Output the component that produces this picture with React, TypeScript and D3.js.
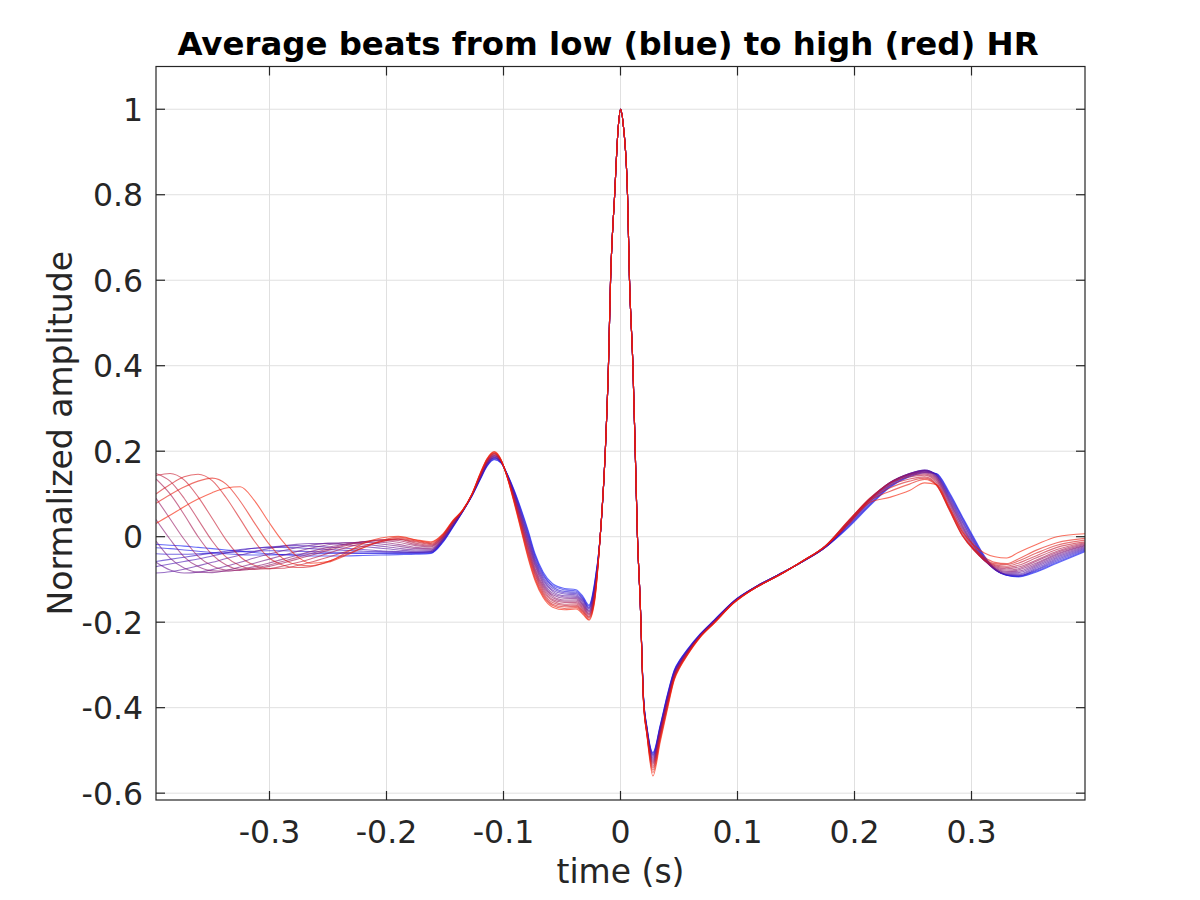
/**
 * Average beats from low (blue) to high (red) HR.
 * D3 via ref + useEffect, clear + redraw. Beats are drawn blue first, red last.
 */
import React, { useRef, useEffect } from 'react';
import * as d3 from 'd3';

const WIDTH = 1200;
const HEIGHT = 900;
const MARGIN = { left: 156, top: 66.5, right: 115, bottom: 100 };

const X_DOMAIN: [number, number] = [-0.397, 0.397];
const Y_DOMAIN: [number, number] = [-0.616, 1.1];
const X_TICKS = [-0.3, -0.2, -0.1, 0, 0.1, 0.2, 0.3];
const Y_TICKS = [-0.6, -0.4, -0.2, 0, 0.2, 0.4, 0.6, 0.8, 1];

const TITLE = 'Average beats from low (blue) to high (red) HR';
const X_LABEL = 'time (s)';
const Y_LABEL = 'Normalized amplitude';

// sample times (s): previous T wave tail + P wave + Q
const TIME_PRE = [
  -0.397, -0.385, -0.373, -0.361, -0.349, -0.337, -0.325, -0.313, -0.301, -0.289, -0.277, -0.265,
  -0.25, -0.235, -0.22, -0.205, -0.19, -0.175,
  -0.162, -0.152, -0.143, -0.135, -0.127, -0.12, -0.114, -0.108, -0.102, -0.097, -0.091, -0.085,
  -0.079, -0.073, -0.066, -0.058, -0.048, -0.038, -0.032, -0.027, -0.022,
];

// R spike, the same for every beat
const TIME_SPIKE = [-0.0175, -0.013, -0.0103, -0.0085, -0.005, -0.002, 0, 0.0025, 0.006, 0.0077, 0.0106, 0.0126, 0.0145, 0.0168];
const SPIKE = [-0.005, 0.2, 0.4, 0.6, 0.8, 0.955, 1.0, 0.96, 0.8, 0.6, 0.4, 0.2, 0.0, -0.148];

// sample times (s): S wave, ST segment, T wave
const TIME_POST = [
  0.0197, 0.0226, 0.0277, 0.034, 0.04, 0.046, 0.051, 0.057, 0.068, 0.08, 0.097, 0.115, 0.135, 0.155, 0.175,
  0.195, 0.213, 0.23, 0.247, 0.26, 0.27, 0.281, 0.292, 0.302, 0.311, 0.32, 0.33, 0.34, 0.355, 0.373, 0.397,
];

// one row per beat, lowest HR first
const BEATS_PRE = [
  [-0.018, -0.02, -0.022, -0.025, -0.028, -0.031, -0.034, -0.037, -0.04, -0.042, -0.044, -0.045, -0.045, -0.045, -0.044, -0.043, -0.042, -0.041,
    -0.039, -0.014, 0.023, 0.058, 0.095, 0.133, 0.165, 0.18, 0.172, 0.148, 0.11, 0.065, 0.015, -0.04, -0.083, -0.11, -0.121, -0.124, -0.14, -0.16, -0.105],
  [-0.026, -0.028, -0.031, -0.034, -0.037, -0.04, -0.042, -0.043, -0.043, -0.042, -0.041, -0.04, -0.039, -0.039, -0.039, -0.039, -0.039, -0.039,
    -0.038, -0.013, 0.024, 0.058, 0.095, 0.134, 0.166, 0.181, 0.173, 0.147, 0.108, 0.062, 0.011, -0.044, -0.087, -0.114, -0.124, -0.127, -0.143, -0.162, -0.108],
  [-0.04, -0.041, -0.041, -0.04, -0.039, -0.037, -0.035, -0.034, -0.033, -0.033, -0.034, -0.035, -0.036, -0.037, -0.038, -0.038, -0.038, -0.038,
    -0.037, -0.011, 0.025, 0.059, 0.096, 0.135, 0.167, 0.183, 0.173, 0.147, 0.106, 0.058, 0.006, -0.048, -0.091, -0.117, -0.128, -0.13, -0.146, -0.165, -0.111],
  [-0.058, -0.053, -0.048, -0.043, -0.038, -0.034, -0.03, -0.027, -0.025, -0.025, -0.026, -0.028, -0.03, -0.032, -0.034, -0.035, -0.036, -0.036,
    -0.035, -0.01, 0.026, 0.059, 0.096, 0.136, 0.169, 0.184, 0.174, 0.146, 0.104, 0.055, 0.002, -0.053, -0.095, -0.121, -0.131, -0.133, -0.148, -0.167, -0.114],
  [-0.07, -0.064, -0.058, -0.052, -0.045, -0.038, -0.032, -0.027, -0.024, -0.022, -0.021, -0.022, -0.024, -0.027, -0.03, -0.033, -0.035, -0.037,
    -0.035, -0.009, 0.027, 0.059, 0.096, 0.137, 0.17, 0.185, 0.174, 0.146, 0.102, 0.052, -0.002, -0.057, -0.099, -0.125, -0.134, -0.136, -0.151, -0.169, -0.117],
  [-0.085, -0.082, -0.076, -0.068, -0.06, -0.051, -0.043, -0.035, -0.028, -0.022, -0.018, -0.016, -0.016, -0.019, -0.023, -0.027, -0.031, -0.034,
    -0.033, -0.007, 0.028, 0.059, 0.097, 0.138, 0.171, 0.186, 0.175, 0.145, 0.1, 0.048, -0.007, -0.061, -0.103, -0.128, -0.138, -0.139, -0.154, -0.172, -0.12],
  [-0.06, -0.078, -0.085, -0.083, -0.077, -0.069, -0.06, -0.05, -0.041, -0.033, -0.026, -0.02, -0.015, -0.014, -0.017, -0.022, -0.027, -0.031,
    -0.031, -0.006, 0.029, 0.06, 0.097, 0.139, 0.172, 0.188, 0.175, 0.145, 0.098, 0.045, -0.011, -0.065, -0.107, -0.132, -0.141, -0.142, -0.157, -0.174, -0.123],
  [-0.01, -0.05, -0.073, -0.083, -0.084, -0.079, -0.071, -0.062, -0.053, -0.044, -0.035, -0.027, -0.019, -0.014, -0.013, -0.017, -0.022, -0.028,
    -0.029, -0.005, 0.03, 0.06, 0.097, 0.14, 0.173, 0.189, 0.176, 0.144, 0.096, 0.042, -0.015, -0.069, -0.111, -0.136, -0.144, -0.145, -0.16, -0.176, -0.126],
  [0.04, -0.006, -0.047, -0.07, -0.08, -0.081, -0.077, -0.07, -0.062, -0.053, -0.044, -0.035, -0.025, -0.017, -0.012, -0.013, -0.018, -0.025,
    -0.027, -0.003, 0.032, 0.06, 0.098, 0.141, 0.175, 0.19, 0.176, 0.144, 0.094, 0.038, -0.02, -0.074, -0.115, -0.139, -0.148, -0.148, -0.162, -0.179, -0.129],
  [0.09, 0.042, -0.006, -0.046, -0.068, -0.078, -0.079, -0.074, -0.067, -0.058, -0.049, -0.04, -0.029, -0.019, -0.012, -0.009, -0.013, -0.021,
    -0.024, -0.002, 0.033, 0.06, 0.098, 0.142, 0.176, 0.191, 0.177, 0.143, 0.092, 0.035, -0.024, -0.078, -0.119, -0.143, -0.151, -0.151, -0.165, -0.181, -0.132],
  [0.135, 0.1, 0.052, 0.0, -0.042, -0.066, -0.076, -0.076, -0.07, -0.062, -0.053, -0.044, -0.032, -0.021, -0.012, -0.007, -0.009, -0.018,
    -0.022, -0.001, 0.034, 0.061, 0.098, 0.143, 0.177, 0.193, 0.177, 0.143, 0.09, 0.032, -0.028, -0.082, -0.123, -0.147, -0.154, -0.154, -0.168, -0.183, -0.135],
  [0.148, 0.13, 0.09, 0.04, -0.01, -0.048, -0.068, -0.076, -0.075, -0.069, -0.061, -0.052, -0.039, -0.026, -0.015, -0.007, -0.006, -0.015,
    -0.02, 0.001, 0.035, 0.061, 0.099, 0.144, 0.178, 0.194, 0.178, 0.142, 0.088, 0.028, -0.033, -0.086, -0.127, -0.15, -0.158, -0.157, -0.171, -0.186, -0.138],
  [0.143, 0.148, 0.133, 0.093, 0.043, -0.008, -0.047, -0.067, -0.075, -0.074, -0.068, -0.06, -0.048, -0.035, -0.022, -0.012, -0.006, -0.012,
    -0.018, 0.002, 0.036, 0.061, 0.099, 0.145, 0.179, 0.195, 0.178, 0.142, 0.086, 0.025, -0.037, -0.09, -0.131, -0.154, -0.161, -0.16, -0.174, -0.188, -0.141],
  [0.1, 0.122, 0.14, 0.146, 0.131, 0.091, 0.041, -0.01, -0.048, -0.066, -0.072, -0.07, -0.058, -0.042, -0.026, -0.012, -0.004, -0.01,
    -0.016, 0.003, 0.037, 0.061, 0.099, 0.146, 0.181, 0.196, 0.179, 0.141, 0.084, 0.022, -0.041, -0.095, -0.135, -0.158, -0.164, -0.163, -0.176, -0.19, -0.144],
  [0.078, 0.098, 0.116, 0.13, 0.137, 0.123, 0.083, 0.033, -0.015, -0.05, -0.065, -0.068, -0.06, -0.044, -0.026, -0.01, -0.001, -0.008,
    -0.014, 0.005, 0.038, 0.062, 0.1, 0.147, 0.182, 0.198, 0.179, 0.141, 0.082, 0.018, -0.046, -0.099, -0.139, -0.161, -0.168, -0.166, -0.179, -0.193, -0.147],
  [0.031, 0.05, 0.07, 0.088, 0.103, 0.114, 0.117, 0.085, 0.036, -0.01, -0.045, -0.062, -0.058, -0.038, -0.016, -0.003, 0.001, -0.007,
    -0.012, 0.006, 0.039, 0.062, 0.1, 0.148, 0.183, 0.199, 0.18, 0.14, 0.08, 0.015, -0.05, -0.103, -0.143, -0.165, -0.171, -0.169, -0.182, -0.195, -0.15],
];

const BEATS_POST = [
  [-0.375, -0.445, -0.505, -0.44, -0.37, -0.312, -0.287, -0.264, -0.228, -0.195, -0.15, -0.118, -0.089, -0.059, -0.025,
    0.022, 0.072, 0.115, 0.14, 0.15, 0.148, 0.104, 0.048, -0.002, -0.045, -0.075, -0.09, -0.094, -0.083, -0.062, -0.035],
  [-0.376, -0.446, -0.507, -0.442, -0.372, -0.313, -0.288, -0.265, -0.228, -0.196, -0.15, -0.118, -0.089, -0.059, -0.025,
    0.024, 0.074, 0.117, 0.142, 0.152, 0.147, 0.101, 0.045, -0.005, -0.047, -0.076, -0.09, -0.093, -0.081, -0.06, -0.033],
  [-0.377, -0.448, -0.51, -0.444, -0.374, -0.315, -0.289, -0.266, -0.229, -0.196, -0.151, -0.118, -0.089, -0.059, -0.025,
    0.026, 0.076, 0.119, 0.144, 0.154, 0.146, 0.098, 0.042, -0.008, -0.049, -0.077, -0.09, -0.092, -0.079, -0.057, -0.031],
  [-0.378, -0.449, -0.512, -0.446, -0.376, -0.316, -0.291, -0.267, -0.23, -0.197, -0.151, -0.118, -0.089, -0.059, -0.025,
    0.028, 0.079, 0.121, 0.146, 0.155, 0.145, 0.095, 0.038, -0.011, -0.051, -0.077, -0.089, -0.091, -0.077, -0.054, -0.029],
  [-0.379, -0.45, -0.515, -0.448, -0.378, -0.318, -0.292, -0.268, -0.23, -0.197, -0.151, -0.118, -0.089, -0.059, -0.025,
    0.03, 0.081, 0.123, 0.147, 0.156, 0.144, 0.092, 0.035, -0.014, -0.052, -0.077, -0.088, -0.089, -0.074, -0.051, -0.027],
  [-0.38, -0.452, -0.518, -0.45, -0.38, -0.319, -0.293, -0.269, -0.231, -0.198, -0.152, -0.118, -0.089, -0.059, -0.025,
    0.031, 0.083, 0.125, 0.148, 0.156, 0.143, 0.089, 0.031, -0.017, -0.053, -0.077, -0.087, -0.087, -0.071, -0.048, -0.025],
  [-0.381, -0.453, -0.521, -0.452, -0.382, -0.321, -0.294, -0.27, -0.231, -0.198, -0.152, -0.118, -0.089, -0.059, -0.025,
    0.032, 0.085, 0.126, 0.148, 0.155, 0.141, 0.086, 0.027, -0.02, -0.054, -0.076, -0.085, -0.084, -0.068, -0.045, -0.023],
  [-0.382, -0.454, -0.524, -0.454, -0.384, -0.322, -0.295, -0.271, -0.232, -0.199, -0.152, -0.118, -0.089, -0.059, -0.025,
    0.033, 0.086, 0.126, 0.147, 0.154, 0.139, 0.083, 0.024, -0.022, -0.055, -0.075, -0.083, -0.081, -0.065, -0.042, -0.021],
  [-0.383, -0.456, -0.527, -0.456, -0.386, -0.324, -0.297, -0.271, -0.232, -0.199, -0.153, -0.12, -0.091, -0.058, -0.022,
    0.034, 0.087, 0.126, 0.146, 0.152, 0.137, 0.08, 0.02, -0.024, -0.056, -0.074, -0.081, -0.078, -0.062, -0.04, -0.02],
  [-0.384, -0.457, -0.53, -0.458, -0.388, -0.325, -0.298, -0.272, -0.233, -0.2, -0.153, -0.12, -0.091, -0.058, -0.022,
    0.035, 0.088, 0.126, 0.145, 0.15, 0.134, 0.076, 0.016, -0.027, -0.056, -0.072, -0.078, -0.075, -0.058, -0.037, -0.018],
  [-0.385, -0.458, -0.533, -0.461, -0.39, -0.327, -0.299, -0.273, -0.233, -0.2, -0.153, -0.12, -0.091, -0.058, -0.022,
    0.036, 0.089, 0.125, 0.143, 0.147, 0.131, 0.072, 0.012, -0.029, -0.056, -0.07, -0.075, -0.071, -0.055, -0.034, -0.016],
  [-0.386, -0.46, -0.537, -0.464, -0.392, -0.328, -0.3, -0.274, -0.234, -0.201, -0.154, -0.12, -0.091, -0.058, -0.022,
    0.037, 0.09, 0.124, 0.14, 0.144, 0.127, 0.068, 0.008, -0.031, -0.055, -0.068, -0.072, -0.067, -0.05, -0.03, -0.014],
  [-0.387, -0.461, -0.541, -0.467, -0.395, -0.33, -0.301, -0.275, -0.234, -0.201, -0.154, -0.12, -0.091, -0.058, -0.022,
    0.038, 0.089, 0.12, 0.135, 0.14, 0.123, 0.064, 0.004, -0.032, -0.054, -0.066, -0.069, -0.062, -0.045, -0.025, -0.012],
  [-0.388, -0.462, -0.546, -0.47, -0.398, -0.331, -0.302, -0.276, -0.235, -0.202, -0.154, -0.12, -0.091, -0.058, -0.022,
    0.038, 0.087, 0.114, 0.13, 0.137, 0.121, 0.062, 0.003, -0.031, -0.052, -0.063, -0.065, -0.057, -0.039, -0.02, -0.008],
  [-0.389, -0.464, -0.552, -0.475, -0.401, -0.333, -0.304, -0.277, -0.235, -0.202, -0.155, -0.12, -0.091, -0.058, -0.022,
    0.035, 0.084, 0.106, 0.123, 0.134, 0.12, 0.064, 0.004, -0.028, -0.048, -0.06, -0.063, -0.052, -0.032, -0.014, -0.004],
  [-0.39, -0.465, -0.56, -0.48, -0.405, -0.335, -0.305, -0.278, -0.236, -0.203, -0.155, -0.12, -0.091, -0.058, -0.022,
    0.03, 0.08, 0.092, 0.108, 0.126, 0.122, 0.068, 0.012, -0.02, -0.038, -0.047, -0.05, -0.037, -0.019, 0.0, 0.007],
];

const FONT = 'DejaVu Sans, sans-serif';
const AXIS_COLOR = '#262626';
const GRID_COLOR = '#e0e0e0';
const LOW_HR_COLOR = '#0a14f5';
const HIGH_HR_COLOR = '#f51c00';

const tickText = (v: number): string => (v === 0 ? '0' : String(v));

type Pt = [number, number];

const App: React.FC = () => {
  const svgRef = useRef<SVGSVGElement>(null);

  useEffect(() => {
    if (!svgRef.current) return;
    const svg = d3.select(svgRef.current);
    svg.selectAll('*').remove();

    const x0 = MARGIN.left;
    const x1 = WIDTH - MARGIN.right;
    const y0 = MARGIN.top;
    const y1 = HEIGHT - MARGIN.bottom;

    const x = d3.scaleLinear().domain(X_DOMAIN).range([x0, x1]);
    const y = d3.scaleLinear().domain(Y_DOMAIN).range([y1, y0]);

    svg.append('rect').attr('width', WIDTH).attr('height', HEIGHT).attr('fill', '#fff');

    svg.append('defs').append('clipPath').attr('id', 'plot-clip')
      .append('rect').attr('x', x0).attr('y', y0).attr('width', x1 - x0).attr('height', y1 - y0);

    // grid
    const grid = svg.append('g').attr('stroke', GRID_COLOR).attr('stroke-width', 1);
    X_TICKS.forEach((t) => {
      grid.append('line').attr('x1', x(t)).attr('x2', x(t)).attr('y1', y0).attr('y2', y1);
    });
    Y_TICKS.forEach((t) => {
      grid.append('line').attr('x1', x0).attr('x2', x1).attr('y1', y(t)).attr('y2', y(t));
    });

    // beats, blue (low HR) to red (high HR)
    const n = BEATS_PRE.length;
    const color = d3.scaleLinear<string>().domain([0, n - 1]).range([LOW_HR_COLOR, HIGH_HR_COLOR]).interpolate(d3.interpolateRgb);
    const line = d3.line<Pt>().x((d) => x(d[0])).y((d) => y(d[1])).curve(d3.curveMonotoneX);

    const beats = svg.append('g').attr('clip-path', 'url(#plot-clip)');
    BEATS_PRE.forEach((pre, k) => {
      const pts: Pt[] = [
        ...TIME_PRE.map((t, i) => [t, pre[i]] as Pt),
        ...TIME_SPIKE.map((t, i) => [t, SPIKE[i]] as Pt),
        ...TIME_POST.map((t, i) => [t, BEATS_POST[k][i]] as Pt),
      ];
      beats.append('path')
        .attr('d', line(pts) ?? '')
        .attr('fill', 'none')
        .attr('stroke', color(k))
        .attr('stroke-opacity', 0.62)
        .attr('stroke-width', 1.1);
    });

    // box + inward ticks on all sides
    const axes = svg.append('g').attr('stroke', AXIS_COLOR).attr('stroke-width', 1.2);
    axes.append('rect').attr('x', x0).attr('y', y0).attr('width', x1 - x0).attr('height', y1 - y0).attr('fill', 'none');
    const TL = 9;
    X_TICKS.forEach((t) => {
      axes.append('line').attr('x1', x(t)).attr('x2', x(t)).attr('y1', y1).attr('y2', y1 - TL);
      axes.append('line').attr('x1', x(t)).attr('x2', x(t)).attr('y1', y0).attr('y2', y0 + TL);
    });
    Y_TICKS.forEach((t) => {
      axes.append('line').attr('x1', x0).attr('x2', x0 + TL).attr('y1', y(t)).attr('y2', y(t));
      axes.append('line').attr('x1', x1).attr('x2', x1 - TL).attr('y1', y(t)).attr('y2', y(t));
    });

    // tick labels
    const labels = svg.append('g').attr('font-family', FONT).attr('fill', AXIS_COLOR).attr('font-size', '31.5px');
    X_TICKS.forEach((t) => {
      labels.append('text').attr('x', x(t)).attr('y', 843).attr('text-anchor', 'middle').text(tickText(t));
    });
    Y_TICKS.forEach((t) => {
      labels.append('text').attr('x', x0 - 13).attr('y', y(t) + 11.4).attr('text-anchor', 'end').text(tickText(t));
    });

    // axis labels
    svg.append('text')
      .attr('x', (x0 + x1) / 2).attr('y', 883)
      .attr('text-anchor', 'middle')
      .attr('font-family', FONT).attr('font-size', '33px').attr('fill', AXIS_COLOR)
      .text(X_LABEL);

    svg.append('text')
      .attr('transform', `translate(72, ${(y0 + y1) / 2}) rotate(-90)`)
      .attr('text-anchor', 'middle')
      .attr('font-family', FONT).attr('font-size', '33px').attr('fill', AXIS_COLOR)
      .text(Y_LABEL);

    // title
    svg.append('text')
      .attr('x', 608).attr('y', 55)
      .attr('text-anchor', 'middle')
      .attr('font-family', FONT).attr('font-size', '32.4px').attr('font-weight', 'bold').attr('fill', '#000')
      .text(TITLE);
  }, []);

  return (
    <svg
      ref={svgRef}
      width={WIDTH}
      height={HEIGHT}
      style={{ position: 'absolute', left: 0, top: 0, display: 'block' }}
    />
  );
};

export default App;
